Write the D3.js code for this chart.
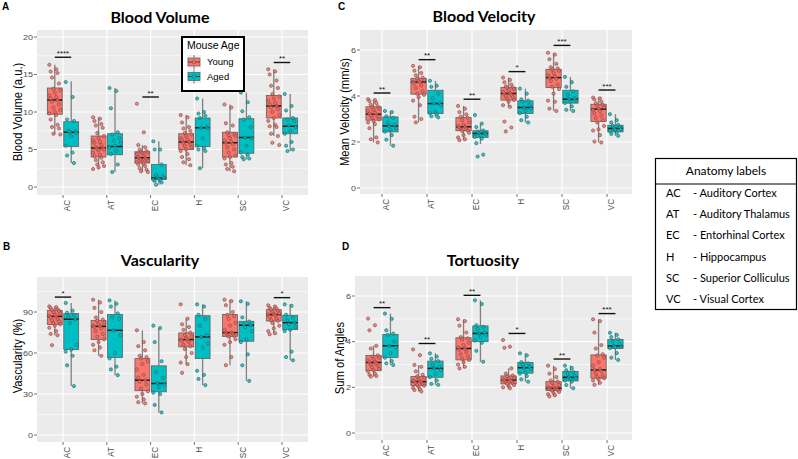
<!DOCTYPE html>
<html><head><meta charset="utf-8">
<script src="https://cdn.jsdelivr.net/npm/d3@7"></script>
<style>body{margin:0;background:#fff}svg{display:block}</style>
</head><body><svg id="c" width="798" height="459"></svg>
<script>
// ---------------- DATA ----------------
const categories = ["AC","AT","EC","H","SC","VC"];
const ageGroups = ["Young","Aged"];
const anatomyCodes = ["AC","AT","EC","H","SC","VC"];
const anatomyNames = ["- Auditory Cortex","- Auditory Thalamus","- Entorhinal Cortex","- Hippocampus","- Superior Colliculus","- Visual Cortex"];

// box stats: [whiskerLow, Q1, median, Q3, whiskerHigh]
const volumeTicks = [0,5,10,15,20];
const volumeYoungStats = [[7.0,9.7,11.6,13.2,16.3],[2.4,4.0,5.2,6.8,9.3],[2.0,3.2,3.9,4.7,5.6],[2.9,5.0,6.0,7.1,9.6],[2.1,4.0,5.9,7.3,11.0],[6.8,9.2,10.8,12.2,15.7]];
const volumeAgedStats  = [[3.2,5.4,7.3,8.7,14.1],[2.0,4.3,5.4,7.1,13.2],[0.3,1.0,1.2,3.0,6.1],[2.5,5.4,7.9,9.2,11.8],[3.7,4.5,6.6,9.1,12.6],[4.8,7.1,8.1,9.2,12.4]];
const volumeYoungPoints = [
 [16.3,15.7,15.4,15.2,14.6,13.8,13.1,12.9,12.6,12.2,12.0,11.8,11.6,11.4,11.0,10.6,10.3,10.0,9.8,9.6,9.0,8.3,8.0,7.8,7.1,7.0],
 [9.3,9.1,8.8,8.4,8.2,7.9,7.2,6.8,6.5,6.2,6.0,5.9,5.6,5.3,5.2,5.1,5.0,4.9,4.6,4.3,4.1,3.9,3.6,3.3,3.0,2.8,2.6,2.4],
 [11.1,7.3,5.6,5.3,5.0,4.8,4.7,4.6,4.5,4.4,4.2,4.0,3.9,3.8,3.7,3.6,3.5,3.4,3.3,3.2,3.0,2.8,2.5,2.3,2.1,2.0],
 [9.6,9.3,8.6,8.0,7.8,7.5,7.2,7.0,6.8,6.5,6.3,6.2,6.0,5.9,5.7,5.5,5.3,5.0,4.8,4.4,4.0,3.7,3.3,2.9],
 [11.0,10.6,8.5,8.2,7.3,7.1,6.9,6.8,6.5,6.2,6.0,5.9,5.7,5.3,5.0,4.6,4.2,4.0,3.8,3.2,3.0,2.7,2.4,2.1],
 [15.7,15.4,15.0,14.2,13.5,13.2,12.4,12.1,11.8,11.5,11.2,11.0,10.8,10.6,10.4,10.0,9.6,9.2,8.8,8.3,8.1,8.0,7.1,6.8,5.9,5.6]];
const volumeAgedPoints = [
 [14.0,12.0,9.0,8.8,7.5,7.4,7.3,7.2,6.8,5.5,4.6,4.2,3.2],
 [13.2,12.8,10.5,7.3,7.0,6.5,6.2,5.9,5.5,5.3,4.8,4.4,3.0,2.0],
 [6.1,5.0,5.0,3.0,1.6,1.4,1.3,1.2,1.1,1.0,0.9,0.8,0.6,0.3],
 [11.8,10.0,9.8,9.5,9.2,8.0,7.9,7.8,6.5,5.5,5.2,5.0,4.8,2.5],
 [12.6,11.3,10.1,9.3,9.0,8.0,6.6,6.5,5.5,4.6,4.3,4.0,3.8,3.7],
 [12.4,10.8,10.2,9.2,9.0,8.8,8.2,8.0,7.5,7.1,6.0,5.5,5.0,4.8]];
const volumeSigCats = ["AC","EC","VC"];
const volumeSigLabels = ["****","**","**"];
const volumeSigValues = [17.3,12.0,16.6];

const velocityTicks = [0,2,4,6];
const velocityYoungStats = [[1.98,2.95,3.21,3.53,3.86],[2.85,4.08,4.61,4.77,5.31],[2.08,2.49,2.66,3.06,3.57],[3.53,3.82,4.11,4.37,4.80],[3.35,4.37,4.80,5.16,5.88],[1.98,2.89,3.43,3.64,3.93]];
const velocityAgedStats  = [[1.84,2.44,2.70,3.09,3.35],[3.07,3.24,3.67,4.25,4.66],[1.91,2.20,2.37,2.49,2.80],[2.85,3.24,3.50,3.79,4.32],[3.35,3.69,3.86,4.25,4.83],[2.27,2.44,2.59,2.73,3.21]];
const velocityYoungPoints = [
 [3.86,3.82,3.78,3.70,3.62,3.55,3.50,3.45,3.40,3.35,3.28,3.22,3.20,3.15,3.10,3.05,2.98,2.92,2.85,2.78,2.60,2.20,2.12,1.98],
 [5.31,5.25,5.10,5.00,4.90,4.80,4.75,4.70,4.65,4.62,4.60,4.55,4.45,4.35,4.20,4.10,4.05,3.95,3.80,3.60,3.10,3.00,2.85],
 [3.57,3.45,3.30,3.20,3.10,3.05,2.95,2.85,2.75,2.70,2.66,2.62,2.58,2.55,2.50,2.48,2.40,2.30,2.20,2.12,2.08],
 [4.80,4.70,4.60,4.50,4.42,4.38,4.35,4.30,4.25,4.18,4.12,4.10,4.05,4.00,3.95,3.88,3.83,3.75,3.60,3.53,2.89,2.63,2.46],
 [5.88,5.80,5.60,5.40,5.25,5.20,5.15,5.10,5.00,4.90,4.85,4.80,4.75,4.65,4.50,4.40,4.30,4.10,3.80,3.75,3.45,3.35],
 [3.93,3.90,3.85,3.75,3.68,3.62,3.58,3.52,3.45,3.40,3.35,3.25,3.15,3.05,2.95,2.85,2.70,2.55,2.50,2.30,2.02,1.98]];
const velocityAgedPoints = [
 [3.35,3.30,3.12,3.05,2.85,2.75,2.70,2.60,2.52,2.45,2.30,2.10,1.84],
 [4.66,4.45,4.40,4.10,3.90,3.70,3.67,3.60,3.30,3.25,3.20,3.12,3.07],
 [3.17,2.80,2.65,2.50,2.45,2.40,2.37,2.33,2.28,2.22,2.15,1.95,1.45,1.37],
 [4.32,4.10,3.85,3.80,3.75,3.60,3.50,3.45,3.35,3.25,3.10,2.95,2.85],
 [4.83,4.60,4.40,4.20,4.05,3.90,3.86,3.80,3.75,3.70,3.55,3.40,3.35],
 [3.21,2.95,2.85,2.75,2.70,2.65,2.60,2.55,2.52,2.48,2.42,2.35,2.27]];
const velocitySigCats = ["AC","AT","EC","H","SC","VC"];
const velocitySigLabels = ["**","**","**","*","***","***"];
const velocitySigValues = [4.13,5.58,3.86,5.06,6.20,4.26];

const vascTicks = [0,30,60,90];
const vascYoungStats = [[73.0,80.8,86.8,91.2,94.1],[57.9,69.8,79.5,83.9,99.0],[23.1,32.4,40.1,55.9,76.6],[51.8,64.5,69.8,74.7,85.1],[51.1,72.2,74.9,88.1,99.0],[73.7,83.4,88.1,91.7,94.9]];
const vascAgedStats  = [[35.8,62.5,84.7,88.8,96.6],[43.8,56.7,76.6,88.1,98.5],[16.5,31.6,37.7,50.6,78.3],[36.5,55.9,71.8,87.3,95.6],[39.6,68.6,80.3,83.2,97.8],[54.7,77.1,82.2,87.6,95.6]];
const vascYoungPoints = [
 [94.1,93.5,92.8,92.0,91.5,90.8,90.0,89.0,88.0,87.2,86.8,86.0,85.0,84.0,83.0,82.0,81.0,80.0,78.5,76.0,74.0,73.0,65.7],
 [99.0,97.0,93.0,90.0,86.0,84.5,83.5,82.0,81.0,80.0,79.5,79.0,78.0,76.0,74.0,72.0,70.0,68.0,66.0,64.0,62.0,57.9],
 [76.6,68.0,65.0,62.0,58.0,57.0,56.0,54.0,52.0,48.0,44.0,42.0,40.1,39.0,37.0,34.0,32.0,30.0,28.0,26.0,24.0,23.1],
 [95.6,85.1,81.0,79.0,77.0,75.0,73.0,72.0,71.0,70.0,69.8,69.0,68.0,66.0,65.0,63.0,60.0,57.0,53.0,51.8,45.5],
 [99.0,98.0,95.0,90.0,88.0,87.0,85.0,82.0,80.0,77.0,75.0,74.9,74.0,73.0,72.5,72.0,70.0,68.0,66.0,57.0,51.1],
 [94.9,94.0,93.0,92.5,92.0,91.0,90.0,89.0,88.5,88.1,87.5,86.5,85.0,84.0,83.5,82.0,80.0,78.0,76.0,74.5,73.7]];
const vascAgedPoints = [
 [96.6,91.0,89.5,88.0,86.5,84.7,82.0,66.0,62.5,61.0,58.0,51.0,35.8],
 [98.5,96.0,94.0,89.0,86.0,85.0,76.6,73.0,60.0,56.0,50.0,48.0,43.8],
 [80.0,78.3,68.0,54.0,46.0,42.0,38.0,37.0,35.0,31.0,30.0,22.0,16.5],
 [95.6,94.0,88.0,85.0,80.0,73.0,71.8,67.0,64.0,47.0,44.0,41.0,36.5],
 [97.8,96.0,86.0,83.0,81.0,80.3,79.0,76.0,70.0,68.0,59.0,51.0,39.6],
 [95.6,94.5,88.0,86.0,84.0,82.2,81.0,79.0,77.0,76.0,61.0,57.0,54.7]];
const vascSigCats = ["AC","VC"];
const vascSigLabels = ["*","*"];
const vascSigValues = [100.9,100.5];

const tortTicks = [0,2,4,6];
const tortYoungStats = [[2.47,2.73,3.09,3.39,3.82],[1.82,2.08,2.25,2.47,2.98],[2.83,3.20,3.70,4.17,4.98],[1.96,2.15,2.32,2.50,2.83],[1.60,1.86,1.96,2.25,2.95],[2.11,2.40,2.76,3.42,4.98]];
const tortAgedStats  = [[2.98,3.31,3.82,4.31,5.23],[2.11,2.44,2.83,3.15,3.49],[3.12,4.00,4.36,4.69,5.81],[2.25,2.62,2.86,3.09,3.49],[1.96,2.28,2.44,2.69,2.95],[3.20,3.70,3.81,4.10,4.39]];
const tortYoungPoints = [
 [5.01,4.72,4.50,3.82,3.70,3.40,3.35,3.30,3.25,3.18,3.12,3.09,3.05,3.00,2.95,2.88,2.80,2.75,2.70,2.60,2.55,2.50,2.47],
 [3.66,3.41,2.98,2.90,2.70,2.55,2.48,2.42,2.35,2.30,2.27,2.25,2.22,2.18,2.15,2.10,2.07,2.02,1.98,1.92,1.88,1.82],
 [4.98,4.90,4.70,4.40,4.20,4.15,4.10,3.95,3.85,3.75,3.70,3.65,3.55,3.45,3.35,3.25,3.20,3.10,3.00,2.90,2.83],
 [4.07,3.78,3.73,2.83,2.60,2.52,2.48,2.42,2.38,2.35,2.32,2.30,2.27,2.22,2.18,2.15,2.10,2.05,2.00,1.96],
 [2.95,2.80,2.60,2.45,2.30,2.25,2.20,2.10,2.05,2.00,1.96,1.95,1.92,1.90,1.88,1.85,1.80,1.75,1.70,1.65,1.60],
 [4.98,4.90,4.40,3.85,3.70,3.45,3.40,3.30,3.10,2.95,2.80,2.76,2.70,2.60,2.50,2.45,2.40,2.35,2.30,2.20,2.11]];
const tortAgedPoints = [
 [5.23,5.00,4.50,4.35,4.30,4.00,3.82,3.75,3.50,3.30,3.15,3.05,2.98],
 [3.49,3.35,3.25,3.15,3.00,2.90,2.83,2.75,2.60,2.45,2.30,2.15,2.11],
 [5.81,5.65,4.72,4.65,4.55,4.40,4.36,4.30,4.20,4.05,3.95,3.60,3.12],
 [3.49,3.40,3.10,3.05,3.00,2.90,2.86,2.80,2.65,2.60,2.50,2.35,2.25],
 [2.95,2.85,2.75,2.68,2.60,2.50,2.44,2.40,2.35,2.30,2.25,2.10,1.96],
 [4.39,4.30,4.20,4.10,4.00,3.90,3.81,3.78,3.75,3.72,3.50,3.30,3.20]];
const tortSigCats = ["AC","AT","EC","H","SC","VC"];
const tortSigLabels = ["**","**","**","*","**","***"];
const tortSigValues = [5.49,3.92,6.03,4.36,3.24,5.23];

// ---------------- STYLE / LAYOUT ----------------
const fillColors = ["#F8766D","#00BFC4"];
const pointFill = ["#e0776f","#24b3b5"];
const pointStroke = ["#96403a","#08706f"];
const sans = "'Liberation Sans', Arial, sans-serif";
const calib = "Lato, 'Open Sans', sans-serif";

const panels = [
 {letter:"A", title:"Blood Volume", ylab:"Blood Volume (a.u.)", ticks:volumeTicks,
  ys:volumeYoungStats, as:volumeAgedStats, yp:volumeYoungPoints, ap:volumeAgedPoints,
  sc:volumeSigCats, sl:volumeSigLabels, sv:volumeSigValues,
  bg:{l:37,r:308,t:30,b:195}, yPix:[187,37], xRange:[63,282],
  letterPos:[2,10], titlePos:[160,23], ylabPos:[17,112]},
 {letter:"C", title:"Blood Velocity", ylab:"Mean Velocity (mm/s)", ticks:velocityTicks,
  ys:velocityYoungStats, as:velocityAgedStats, yp:velocityYoungPoints, ap:velocityAgedPoints,
  sc:velocitySigCats, sl:velocitySigLabels, sv:velocitySigValues,
  bg:{l:360,r:632,t:30,b:194}, yPix:[188,50], xRange:[382,607],
  letterPos:[338,10], titlePos:[484,22], ylabPos:[344,112]},
 {letter:"B", title:"Vascularity", ylab:"Vascularity (%)", ticks:vascTicks,
  ys:vascYoungStats, as:vascAgedStats, yp:vascYoungPoints, ap:vascAgedPoints,
  sc:vascSigCats, sl:vascSigLabels, sv:vascSigValues,
  bg:{l:37,r:308,t:277,b:442}, yPix:[435,312], xRange:[63,282],
  letterPos:[3,250], titlePos:[160,266], ylabPos:[17,356]},
 {letter:"D", title:"Tortuosity", ylab:"Sum of Angles", ticks:tortTicks,
  ys:tortYoungStats, as:tortAgedStats, yp:tortYoungPoints, ap:tortAgedPoints,
  sc:tortSigCats, sl:tortSigLabels, sv:tortSigValues,
  bg:{l:355,r:632,t:276,b:440}, yPix:[433,296], xRange:[382,607],
  letterPos:[342,250], titlePos:[483,266], ylabPos:[339,358]}
];

const svg = d3.select("#c");
svg.append("rect").attr("width",798).attr("height",459).attr("fill","#fff");

panels.forEach(p => {
  const g = svg.append("g");
  const x = d3.scalePoint().domain(categories).range(p.xRange);
  const step = x.step();
  const y = d3.scaleLinear().domain([p.ticks[0], p.ticks[p.ticks.length-1]]).range(p.yPix);
  const bg = p.bg;
  g.append("rect").attr("x",bg.l).attr("y",bg.t).attr("width",bg.r-bg.l).attr("height",bg.b-bg.t).attr("fill","#EBEBEB");
  const half = (p.ticks[1]-p.ticks[0])/2;
  const vMin = y.invert(bg.b), vMax = y.invert(bg.t);
  const minor = [];
  for (let v = p.ticks[0]-half; v <= vMax; v += 2*half) if (v >= vMin) minor.push(v);
  g.selectAll(".mn").data(minor).enter().append("line")
    .attr("x1",bg.l).attr("x2",bg.r).attr("y1",d=>y(d)).attr("y2",d=>y(d))
    .attr("stroke","#fff").attr("stroke-width",0.6);
  g.selectAll(".mj").data(p.ticks).enter().append("line")
    .attr("x1",bg.l).attr("x2",bg.r).attr("y1",d=>y(d)).attr("y2",d=>y(d))
    .attr("stroke","#fff").attr("stroke-width",1.2);
  g.selectAll(".vx").data(categories).enter().append("line")
    .attr("x1",d=>x(d)).attr("x2",d=>x(d)).attr("y1",bg.t).attr("y2",bg.b)
    .attr("stroke","#fff").attr("stroke-width",1.2);
  g.selectAll(".yt").data(p.ticks).enter().append("line")
    .attr("x1",bg.l-3).attr("x2",bg.l).attr("y1",d=>y(d)).attr("y2",d=>y(d))
    .attr("stroke","#4d4d4d").attr("stroke-width",0.8);
  g.selectAll(".yl").data(p.ticks).enter().append("text")
    .attr("transform",d=>`translate(${bg.l-4},${y(d)}) scale(1,0.85)`)
    .attr("dy","0.36em").attr("text-anchor","end")
    .attr("font-family",sans).attr("font-size",9).attr("fill","#4d4d4d").text(d=>d);
  g.selectAll(".xt").data(categories).enter().append("line")
    .attr("x1",d=>x(d)).attr("x2",d=>x(d)).attr("y1",bg.b).attr("y2",bg.b+3)
    .attr("stroke","#4d4d4d").attr("stroke-width",0.8);
  g.selectAll(".xl").data(categories).enter().append("text")
    .attr("transform",d=>`translate(${x(d)+4},${bg.b+5}) rotate(-90) scale(0.85,1)`)
    .attr("text-anchor","end").attr("dy","0.36em")
    .attr("font-family",sans).attr("font-size",9.5).attr("fill","#4d4d4d").text(d=>d);
  const bw = step*0.34, off = step*0.1875;
  [[p.ys,p.yp],[p.as,p.ap]].forEach((grp, gi) => {
    const stats = grp[0], pts = grp[1];
    categories.forEach((c, ci) => {
      const s = stats[ci];
      const cx = x(c) + (gi===0 ? -off : off);
      const bx = g.append("g");
      bx.append("line").attr("x1",cx).attr("x2",cx).attr("y1",y(s[4])).attr("y2",y(s[3]))
        .attr("stroke","#808080").attr("stroke-width",1.3);
      bx.append("line").attr("x1",cx).attr("x2",cx).attr("y1",y(s[1])).attr("y2",y(s[0]))
        .attr("stroke","#808080").attr("stroke-width",1.3);
      bx.append("rect").attr("x",cx-bw/2).attr("y",y(s[3])).attr("width",bw).attr("height",y(s[1])-y(s[3]))
        .attr("fill",fillColors[gi]).attr("stroke","#5f5f5f").attr("stroke-width",0.8);
      bx.append("line").attr("x1",cx-bw/2).attr("x2",cx+bw/2).attr("y1",y(s[2])).attr("y2",y(s[2]))
        .attr("stroke","#1a1a1a").attr("stroke-width",1.5);
      const list = pts[ci];
      bx.selectAll("circle").data(list).enter().append("circle")
        .attr("cx",(d,i)=> cx + (((i*5)%9)-4)/4*5.5)
        .attr("cy",d=>y(d)).attr("r",1.6)
        .attr("fill",pointFill[gi]).attr("fill-opacity",0.8)
        .attr("stroke",pointStroke[gi]).attr("stroke-width",0.65);
    });
  });
  p.sc.forEach((c, i) => {
    const yy = y(p.sv[i]);
    g.append("line").attr("x1",x(c)-off).attr("x2",x(c)+off).attr("y1",yy).attr("y2",yy)
      .attr("stroke","#111").attr("stroke-width",1.4);
    g.append("text").attr("x",x(c)).attr("y",yy-1.5).attr("text-anchor","middle")
      .attr("font-family",sans).attr("font-size",8).attr("fill","#111").text(p.sl[i]);
  });
  g.append("text").attr("x",p.titlePos[0]).attr("y",p.titlePos[1]).attr("text-anchor","middle")
    .attr("font-family",calib).attr("font-weight","bold").attr("font-size",16).attr("fill","#000").text(p.title);
  g.append("text").attr("x",p.letterPos[0]).attr("y",p.letterPos[1])
    .attr("font-family",sans).attr("font-weight","bold").attr("font-size",10).attr("fill","#000").text(p.letter);
  g.append("text").attr("transform",`translate(${p.ylabPos[0]},${p.ylabPos[1]}) rotate(-90) scale(0.9,1)`)
    .attr("text-anchor","middle").attr("dy","0.36em")
    .attr("font-family",sans).attr("font-size",12.5).attr("fill","#000").text(p.ylab);
});

// Mouse Age legend
const lg = svg.append("g");
lg.append("rect").attr("x",182).attr("y",37).attr("width",62).attr("height",54)
  .attr("fill","#fff").attr("stroke","#000").attr("stroke-width",2);
lg.append("text").attr("x",187).attr("y",49).attr("font-family",sans).attr("font-size",10.5).text("Mouse Age");
ageGroups.forEach((a, i) => {
  const cy = 62 + i*14.5, cx = 194;
  lg.append("rect").attr("x",cx-7).attr("y",cy-7).attr("width",14).attr("height",14).attr("fill","#F2F2F2");
  lg.append("line").attr("x1",cx).attr("x2",cx).attr("y1",cy-7).attr("y2",cy+7).attr("stroke","#7a7a7a").attr("stroke-width",1);
  lg.append("rect").attr("x",cx-6).attr("y",cy-4).attr("width",12).attr("height",8)
    .attr("fill",fillColors[i]).attr("stroke","#5a5a5a").attr("stroke-width",0.7);
  lg.append("line").attr("x1",cx-6).attr("x2",cx+6).attr("y1",cy).attr("y2",cy).attr("stroke","#333").attr("stroke-width",0.8);
  lg.append("circle").attr("cx",cx).attr("cy",cy).attr("r",1.8).attr("fill",pointFill[i]).attr("stroke",pointStroke[i]).attr("stroke-width",0.6);
  lg.append("text").attr("x",207).attr("y",cy).attr("dy","0.35em").attr("font-family",sans).attr("font-size",9.5).text(a);
});

// Anatomy labels table
const at = svg.append("g");
at.append("rect").attr("x",655.5).attr("y",158.5).attr("width",141).attr("height",151)
  .attr("fill","#fff").attr("stroke","#000").attr("stroke-width",1.2);
at.append("line").attr("x1",655.5).attr("x2",796.5).attr("y1",184).attr("y2",184).attr("stroke","#000").attr("stroke-width",1.2);
at.append("text").attr("x",726).attr("y",175).attr("text-anchor","middle")
  .attr("font-family",calib).attr("font-size",12).text("Anatomy labels");
anatomyCodes.forEach((c, i) => {
  const yy = 197 + i*21.2;
  at.append("text").attr("x",666).attr("y",yy).attr("font-family",calib).attr("font-size",11).text(c);
  at.append("text").attr("x",693).attr("y",yy).attr("font-family",calib).attr("font-size",11).text(anatomyNames[i]);
});
</script></body></html>
